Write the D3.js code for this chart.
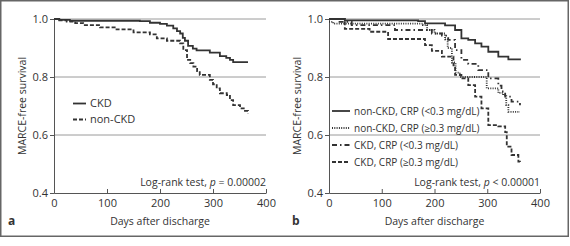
<!DOCTYPE html>
<html>
<head>
<meta charset="utf-8">
<script src="https://cdn.jsdelivr.net/npm/d3@7"></script>
<style>
  body { margin: 0; background: #fff; }
  text { font-family: "Open Sans", sans-serif; fill: #333; }
</style>
</head>
<body>
<div id="chart"></div>
<script>
// x and y ticks
const xTicks = [0, 100, 200, 300, 400]
const yTicks = [0.4, 0.6, 0.8, 1.0]
const gridTicks = [0.6, 0.8, 1.0]

// panel a: Kaplan-Meier steps (day, survival)
const ckdDays = [0, 10, 30, 162, 181, 200, 213, 225, 232, 238, 243, 247, 253, 262, 269, 294, 313, 325, 332, 338, 366]
const ckdSurv = [1.0, 0.997, 0.994, 0.993, 0.987, 0.983, 0.977, 0.968, 0.958, 0.95, 0.935, 0.925, 0.907, 0.898, 0.892, 0.884, 0.872, 0.866, 0.859, 0.851, 0.851]
const nonCkdDays = [0, 10, 24, 40, 55, 87, 118, 150, 181, 194, 213, 238, 244, 251, 257, 263, 270, 275, 294, 300, 307, 313, 326, 332, 338, 351, 358, 366]
const nonCkdSurv = [1.0, 0.995, 0.991, 0.986, 0.979, 0.971, 0.964, 0.954, 0.947, 0.933, 0.925, 0.916, 0.893, 0.859, 0.848, 0.836, 0.82, 0.807, 0.79, 0.775, 0.761, 0.744, 0.738, 0.72, 0.703, 0.692, 0.683, 0.675]

// panel b
const nLowDays = [0, 30, 169, 182, 220, 239, 251, 264, 277, 289, 302, 321, 340, 362]
const nLowSurv = [1.0, 0.995, 0.993, 0.985, 0.978, 0.962, 0.933, 0.928, 0.916, 0.905, 0.887, 0.87, 0.861, 0.858]
const nHighDays = [0, 8, 178, 186, 200, 220, 225, 233, 240, 248, 299, 321, 330, 336, 340, 362]
const nHighSurv = [0.99, 0.984, 0.979, 0.962, 0.95, 0.93, 0.9, 0.85, 0.815, 0.8, 0.761, 0.745, 0.738, 0.703, 0.68, 0.68]
const cLowDays = [0, 20, 43, 125, 195, 214, 226, 239, 251, 264, 283, 302, 321, 327, 334, 346, 362]
const cLowSurv = [1.0, 0.99, 0.979, 0.962, 0.95, 0.943, 0.928, 0.893, 0.859, 0.845, 0.824, 0.795, 0.77, 0.75, 0.732, 0.715, 0.703]
const cHighDays = [0, 30, 77, 112, 182, 195, 214, 236, 239, 251, 264, 277, 289, 302, 321, 334, 337, 346, 359, 362]
const cHighSurv = [1.0, 0.966, 0.956, 0.931, 0.91, 0.89, 0.87, 0.84, 0.807, 0.795, 0.772, 0.732, 0.692, 0.634, 0.63, 0.61, 0.56, 0.531, 0.508, 0.505]

const panels = [
  {
    letter: "a", left: 54, right: 266, letterX: 8,
    series: [
      { name: "CKD", days: ckdDays, surv: ckdSurv, dash: null },
      { name: "non-CKD", days: nonCkdDays, surv: nonCkdSurv, dash: "4,2" }
    ],
    legendX: 73, legendY: 103.5, legendStep: 16, lineLen: 13, legendFont: 11,
    test: "p = 0.00002"
  },
  {
    letter: "b", left: 329, right: 540, letterX: 292,
    series: [
      { name: "non-CKD, CRP (<0.3 mg/dL)", days: nLowDays, surv: nLowSurv, dash: null },
      { name: "non-CKD, CRP (\u22650.3 mg/dL)", days: nHighDays, surv: nHighSurv, dash: "1,1.3" },
      { name: "CKD, CRP (<0.3 mg/dL)", days: cLowDays, surv: cLowSurv, dash: "5,3,1.5,3" },
      { name: "CKD, CRP (\u22650.3 mg/dL)", days: cHighDays, surv: cHighSurv, dash: "4,2" }
    ],
    legendX: 332, legendY: 111, legendStep: 17, lineLen: 18, legendFont: 10,
    test: "p < 0.00001"
  }
]

const width = 570, height = 246
const plotTop = 19, plotBottom = 193

const svg = d3.select("#chart").append("svg")
  .attr("width", width)
  .attr("height", height)

// outer frame
svg.append("rect")
  .attr("x", 0.75).attr("y", 0.75)
  .attr("width", 567.5).attr("height", 235.5)
  .attr("fill", "none")
  .attr("stroke", "#666")
  .attr("stroke-width", 1.5)

panels.forEach(p => {
  const x = d3.scaleLinear().domain([0, 400]).range([p.left, p.right])
  const y = d3.scaleLinear().domain([0.4, 1.0]).range([plotBottom, plotTop])
  const g = svg.append("g")

  // gridlines
  g.selectAll(".grid")
    .data(gridTicks)
    .join("line")
    .attr("x1", p.left).attr("x2", p.right)
    .attr("y1", d => y(d)).attr("y2", d => y(d))
    .attr("stroke", "#9a9a9a")
    .attr("stroke-width", 1)

  // y axis
  const yAxis = g.append("g")
    .attr("transform", `translate(${p.left},0)`)
    .call(d3.axisLeft(y).tickValues(yTicks).tickFormat(d3.format(".1f")).tickSize(4).tickPadding(2))
  yAxis.select(".domain").attr("stroke", "#555")
  yAxis.selectAll(".tick line").attr("stroke", "#555")
  yAxis.selectAll("text").attr("font-size", 11).attr("fill", "#444").style("font-family", "Open Sans")

  // x axis, ticks pointing inwards
  const xAxis = g.append("g")
    .attr("transform", `translate(0,${plotBottom})`)
    .call(d3.axisBottom(x).tickValues(xTicks).tickSizeInner(-4).tickSizeOuter(0).tickPadding(6))
  xAxis.select(".domain").attr("stroke", "#555")
  xAxis.selectAll(".tick line").attr("stroke", "#555")
  xAxis.selectAll("text").attr("font-size", 11).attr("fill", "#444").style("font-family", "Open Sans")

  // curves
  const line = d3.line()
    .x(d => x(d[0]))
    .y(d => y(d[1]))
    .curve(d3.curveStepAfter)

  p.series.forEach(s => {
    const pts = s.days.map((d, i) => [d, s.surv[i]])
    g.append("path")
      .datum(pts)
      .attr("d", line)
      .attr("fill", "none")
      .attr("stroke", "#333")
      .attr("stroke-width", 1.8)
      .attr("stroke-dasharray", s.dash)
  })

  // legend
  const leg = g.selectAll(".leg")
    .data(p.series)
    .join("g")
    .attr("transform", (d, i) => `translate(${p.legendX},${p.legendY + i * p.legendStep})`)
  leg.append("line")
    .attr("x1", 0).attr("x2", p.lineLen)
    .attr("stroke", "#333")
    .attr("stroke-width", 1.8)
    .attr("stroke-dasharray", d => d.dash)
  leg.append("text")
    .attr("x", p.lineLen + 4)
    .attr("dy", "0.35em")
    .attr("font-size", p.legendFont)
    .text(d => d.name)

  // log-rank note
  const note = g.append("text")
    .attr("x", p.right).attr("y", 186)
    .attr("text-anchor", "end")
    .attr("font-size", 10.5)
  note.append("tspan").text("Log-rank test, ")
  note.append("tspan").attr("font-style", "italic").text(p.test.slice(0, 1))
  note.append("tspan").text(p.test.slice(1))

  // axis titles
  g.append("text")
    .attr("x", (p.left + p.right) / 2)
    .attr("y", 225)
    .attr("text-anchor", "middle")
    .attr("font-size", 10.5)
    .text("Days after discharge")
  g.append("text")
    .attr("transform", `translate(${p.left - 28},${(plotTop + plotBottom) / 2}) rotate(-90)`)
    .attr("text-anchor", "middle")
    .attr("font-size", 10.5)
    .text("MARCE-free survival")

  // panel letter
  g.append("text")
    .attr("x", p.letterX).attr("y", 225)
    .attr("font-size", 12)
    .attr("font-weight", "bold")
    .text(p.letter)
})
</script>
</body>
</html>
